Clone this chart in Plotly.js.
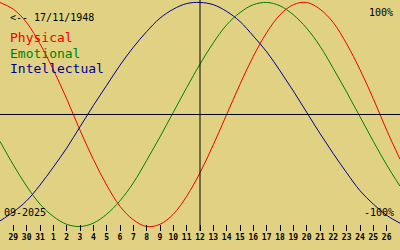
<!DOCTYPE html>
<html>
<head>
<meta charset="utf-8">
<script src="https://cdn.plot.ly/plotly-3.0.1.min.js"></script>
<style>
  html, body { margin: 0; padding: 0; background: #e0d282; }
  #chart { width: 400px; height: 250px; }
</style>
</head>
<body>
<div id="chart"></div>
<script>
// Days shown (Aug 28 .. Sep 27, 2025); first and last only extend the curves to the edges
const days = [28, 29, 30, 31, 1, 2, 3, 4, 5, 6, 7, 8, 9, 10, 11, 12, 13, 14, 15, 16, 17, 18, 19, 20, 21, 22, 23, 24, 25, 26, 27];
const tickDays = days.slice(1, 30);
const todayDay = 12;

// Values (-1 = -100%, 1 = 100%)
const physical = [1.00, 0.94, 0.82, 0.63, 0.40, 0.14, -0.14, -0.40, -0.63, -0.82, -0.94, -1.00, -0.98, -0.89, -0.73, -0.52, -0.27, 0.00, 0.27, 0.52, 0.73, 0.89, 0.98, 1.00, 0.94, 0.82, 0.63, 0.40, 0.14, -0.14, -0.40];
const emotional = [-0.24, -0.45, -0.64, -0.80, -0.91, -0.98, -1.00, -0.97, -0.89, -0.77, -0.61, -0.41, -0.20, 0.02, 0.24, 0.45, 0.64, 0.80, 0.91, 0.98, 1.00, 0.97, 0.89, 0.77, 0.61, 0.41, 0.20, -0.02, -0.24, -0.45, -0.64];
const intellectual = [-0.95, -0.87, -0.77, -0.63, -0.47, -0.30, -0.11, 0.08, 0.26, 0.44, 0.60, 0.74, 0.86, 0.94, 0.99, 1.00, 0.98, 0.92, 0.83, 0.70, 0.56, 0.39, 0.21, 0.02, -0.17, -0.35, -0.52, -0.68, -0.80, -0.90, -0.97];

const birthLabel = "<-- 17/11/1948";
const monthLabel = "09-2025";
const seriesNames = ["Physical", "Emotional", "Intellectual"];

const xs = days.map((d, i) => i);
const todayX = days.indexOf(todayDay, 4);

const RED = "#f00000", GREEN = "#008000", BLUE = "#000090";
const BG = "#e0d282";
const MONO = "DejaVu Sans Mono, monospace";

function tr(y, color, name) {
  return { x: xs, y: y, name: name, type: "scatter", mode: "lines",
           line: { color: color, width: 1, shape: "spline", smoothing: 1 },
           hoverinfo: "skip" };
}

const data = [tr(physical, RED, seriesNames[0]), tr(emotional, GREEN, seriesNames[1]), tr(intellectual, BLUE, seriesNames[2])];

const PH = 231;
function py(pix) { return 1 - pix / PH; }

function ann(text, x, xanchor, ypix, size, color) {
  return { text: text, xref: "paper", yref: "paper", x: x, y: py(ypix),
           xanchor: xanchor, yanchor: "middle", showarrow: false,
           font: { family: MONO, size: size, color: color } };
}

const layout = {
  width: 400, height: 250,
  margin: { l: 0, r: 0, t: 0, b: 250 - PH, pad: 0 },
  paper_bgcolor: BG, plot_bgcolor: BG,
  showlegend: false,
  xaxis: {
    range: [0, xs.length - 1], showgrid: false, zeroline: false, showline: false,
    tickmode: "array", tickvals: tickDays.map((d, i) => i + 1), ticktext: tickDays.map(String),
    ticks: "inside", ticklen: 6, tickwidth: 1, tickcolor: "#000",
    tickfont: { family: MONO, size: 8, color: "#000", weight: "bold" },
    fixedrange: true
  },
  yaxis: { range: [-1.040, 1.022], visible: false, fixedrange: true },
  shapes: [
    { type: "line", xref: "paper", yref: "y", x0: 0, x1: 1, y0: 0, y1: 0, line: { color: "#000", width: 1 } },
    { type: "line", xref: "x", yref: "paper", x0: todayX, x1: todayX, y0: 0, y1: 1, line: { color: "#000", width: 1 } }
  ],
  annotations: [
    ann(birthLabel, 8 / 400, "left", 17, 10, "#000"),
    ann(seriesNames[0], 8 / 400, "left", 38, 13, RED),
    ann(seriesNames[1], 8 / 400, "left", 53, 13, GREEN),
    ann(seriesNames[2], 8 / 400, "left", 68, 13, BLUE),
    ann("100%", 395 / 400, "right", 13, 10, "#000"),
    ann("-100%", 396 / 400, "right", 212, 10, "#000"),
    ann(monthLabel, 2 / 400, "left", 212, 10, "#000")
  ]
};

Plotly.newPlot("chart", data, layout, { staticPlot: true, displayModeBar: false });
</script>
</body>
</html>
